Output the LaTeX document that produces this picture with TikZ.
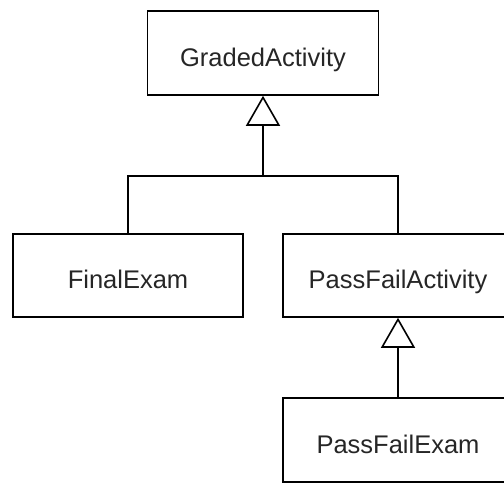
\documentclass[tikz,border=0pt]{standalone}
\usepackage{fontspec}
\setmainfont{Liberation Sans}
\usetikzlibrary{arrows.meta}
\tikzset{
  classbox/.style={draw, line width=1.6pt, rectangle, inner sep=0pt,
    minimum width=230pt, minimum height=83pt,
    text height=26pt, text depth=0pt,
    font=\fontsize{25.5}{30}\selectfont, text=black!85},
  conn/.style={line width=1.6pt},
  inherit/.style={conn, -{Triangle[open, length=30pt, width=34pt, line width=1.6pt]}}
}
\begin{document}
\begin{tikzpicture}[x=1pt,y=-1pt]
  \useasboundingbox (0,0) rectangle (504,483);
  \clip (0,0) rectangle (504,483);
  \node[classbox, minimum width=231pt, minimum height=84pt] (ga) at (263,53) {GradedActivity};
  \node[classbox] (fe) at (128,275.5) {FinalExam};
  \node[classbox] (pfa) at (398,275.5) {PassFailActivity};
  \node[classbox, minimum height=84pt] (pfe) at (398,440) {PassFailExam};
  \coordinate (j) at (263,176);
  \draw[conn] (fe.north) |- (j) -| (pfa.north);
  \draw[inherit] (j) -- (ga.south);
  \draw[inherit] (pfe.north) -- (pfa.south);
\end{tikzpicture}
\end{document}
